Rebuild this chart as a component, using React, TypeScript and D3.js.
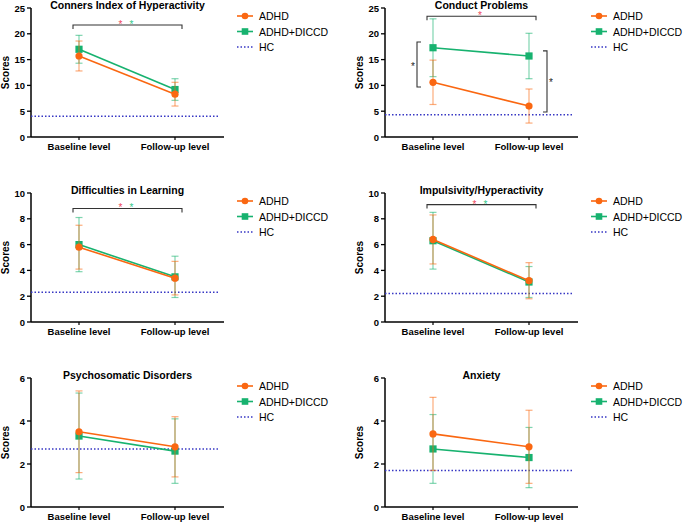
import React from "react";
import * as d3 from "d3";

const categories = ["Baseline level", "Follow-up level"];
const titles = [
  "Conners Index of Hyperactivity",
  "Conduct Problems",
  "Difficulties in Learning",
  "Impulsivity/Hyperactivity",
  "Psychosomatic Disorders",
  "Anxiety",
];
const adhdMean = [[15.7, 8.3], [10.6, 6.0], [5.8, 3.4], [6.4, 3.2], [3.5, 2.8], [3.4, 2.8]];
const adhdSD = [[2.9, 2.3], [4.3, 3.3], [1.7, 1.3], [1.9, 1.4], [1.9, 1.4], [1.7, 1.7]];
const diccdMean = [[17.0, 9.2], [17.3, 15.7], [6.0, 3.5], [6.3, 3.1], [3.3, 2.6], [2.7, 2.3]];
const diccdSD = [[2.7, 2.1], [5.6, 4.4], [2.1, 1.6], [2.2, 1.2], [2.0, 1.5], [1.6, 1.4]];
const hcValue = [4.0, 4.3, 2.3, 2.2, 2.7, 1.7];
const yMax = [25, 25, 10, 10, 6, 6];
const yStep = [5, 5, 2, 2, 2, 2];
const legendLabels = ["ADHD", "ADHD+DICCD", "HC"];
// significance bracket across time points (value level) and star colours
const topBracket = [21.7, 23.4, 8.8, 9.1, null, null];
const topStars = [["red", "green"], ["red"], ["red", "green"], ["red", "green"], [], []];
// side brackets for Conduct Problems: [category index, low, high]
const sideBrackets = [
  [0, 9.7, 18.4],
  [1, 4.85, 16.7],
];

const ORANGE = "#FA6711";
const GREEN = "#17B26F";
const BLUE = "#3737C4";
const FONT = "Liberation Sans, Arial, Helvetica, sans-serif";

const colX = [31, 385];
const rowTop = [8, 193, 378];
const plotH = 129;
const axisLen = 193;

function Panel({ i }: { i: number }) {
  const ax = colX[i % 2];
  const top = rowTop[Math.floor(i / 2)];
  const bottom = top + plotH;
  const y = d3.scaleLinear().domain([0, yMax[i]]).range([bottom, top]);
  const x = d3.scalePoint().domain(categories).range([ax + 48, ax + 144]);
  const ticks = d3.range(0, yMax[i] + 0.001, yStep[i]);
  const line = d3
    .line<number>()
    .x((_, k) => x(categories[k])!)
    .y((v) => y(v));

  const series = [
    { mean: diccdMean[i], sd: diccdSD[i], color: GREEN, shape: "square" },
    { mean: adhdMean[i], sd: adhdSD[i], color: ORANGE, shape: "circle" },
  ];

  const midX = ax + axisLen / 2;
  const lx = ax + 206;
  const ly = [top + 8, top + 23.5, top + 39];

  return (
    <g>
      {/* title */}
      <text x={midX} y={top + 1} textAnchor="middle" fontSize={10.5} fontWeight="bold" fontFamily={FONT}>
        {titles[i]}
      </text>
      {/* y axis */}
      <line x1={ax} x2={ax} y1={top} y2={bottom} stroke="#000" strokeWidth={1.5} />
      {ticks.map((t) => (
        <g key={t}>
          <line x1={ax - 4} x2={ax} y1={y(t)} y2={y(t)} stroke="#000" strokeWidth={1.3} />
          <text x={ax - 6} y={y(t) + 3.5} textAnchor="end" fontSize={9.5} fontWeight="bold" fontFamily={FONT}>
            {t}
          </text>
        </g>
      ))}
      <text
        transform={`translate(${ax - 22},${(top + bottom) / 2}) rotate(-90)`}
        textAnchor="middle"
        fontSize={10}
        fontWeight="bold"
        fontFamily={FONT}
      >
        Scores
      </text>
      {/* x axis */}
      <line x1={ax} x2={ax + axisLen} y1={bottom} y2={bottom} stroke="#000" strokeWidth={1.5} />
      {categories.map((c) => (
        <g key={c}>
          <line x1={x(c)} x2={x(c)} y1={bottom} y2={bottom + 3} stroke="#000" strokeWidth={1.2} />
          <text x={x(c)} y={bottom + 13} textAnchor="middle" fontSize={9.5} fontWeight="bold" fontFamily={FONT}>
            {c}
          </text>
        </g>
      ))}
      {/* HC line */}
      <line
        x1={ax}
        x2={ax + axisLen - 5}
        y1={y(hcValue[i])}
        y2={y(hcValue[i])}
        stroke={BLUE}
        strokeWidth={1.5}
        strokeDasharray="1.5,2"
      />
      {/* series */}
      {series.map((s, si) => (
        <g key={si}>
          {s.mean.map((m, k) => {
            const cx = x(categories[k])!;
            const lo = y(m - s.sd[k]);
            const hi = y(m + s.sd[k]);
            return (
              <g key={k} stroke={s.color} strokeOpacity={0.55} strokeWidth={1.2}>
                <line x1={cx} x2={cx} y1={lo} y2={hi} />
                <line x1={cx - 3.5} x2={cx + 3.5} y1={lo} y2={lo} />
                <line x1={cx - 3.5} x2={cx + 3.5} y1={hi} y2={hi} />
              </g>
            );
          })}
          <path d={line(s.mean)!} fill="none" stroke={s.color} strokeWidth={1.6} />
          {s.mean.map((m, k) => {
            const cx = x(categories[k])!;
            return s.shape === "circle" ? (
              <circle key={k} cx={cx} cy={y(m)} r={3.6} fill={s.color} />
            ) : (
              <rect key={k} x={cx - 3.6} y={y(m) - 3.6} width={7.2} height={7.2} fill={s.color} />
            );
          })}
        </g>
      ))}
      {/* top bracket */}
      {topBracket[i] !== null && (
        <g>
          <path
            d={`M${x(categories[0])! - 6},${y(topBracket[i]!) + 4}V${y(topBracket[i]!)}H${
              x(categories[1])! + 7
            }V${y(topBracket[i]!) + 4}`}
            fill="none"
            stroke="#333"
            strokeWidth={1.1}
          />
          {topStars[i].map((col, k) => {
            const n = topStars[i].length;
            const cxs = (x(categories[0])! + x(categories[1])!) / 2 - 5.5 * (n - 1) + 11 * k - 1;
            return (
              <text
                key={k}
                x={cxs}
                y={y(topBracket[i]!) + 3}
                textAnchor="middle"
                fontSize={10}
                fontFamily={FONT}
                fill={col === "red" ? "#F0475A" : "#2FC98A"}
              >
                *
              </text>
            );
          })}
        </g>
      )}
      {/* side brackets for Conduct Problems */}
      {i === 1 &&
        sideBrackets.map(([k, lo, hi], bi) => {
          const cx = x(categories[k])!;
          const bx = k === 0 ? cx - 16 : cx + 18;
          const dir = k === 0 ? 4 : -4;
          const sx = k === 0 ? bx - 4 : bx + 4;
          return (
            <g key={bi}>
              <path
                d={`M${bx + dir},${y(hi)}H${bx}V${y(lo)}H${bx + dir}`}
                fill="none"
                stroke="#333"
                strokeWidth={1.1}
              />
              <text x={sx} y={(y(hi) + y(lo)) / 2 + 5} textAnchor="middle" fontSize={10} fontFamily={FONT} fill="#222">
                *
              </text>
            </g>
          );
        })}
      {/* legend */}
      <g>
        <line x1={lx} x2={lx + 16} y1={ly[0]} y2={ly[0]} stroke={ORANGE} strokeWidth={1.6} />
        <circle cx={lx + 8} cy={ly[0]} r={3.3} fill={ORANGE} />
        <line x1={lx} x2={lx + 16} y1={ly[1]} y2={ly[1]} stroke={GREEN} strokeWidth={1.6} />
        <rect x={lx + 8 - 3.3} y={ly[1] - 3.3} width={6.6} height={6.6} fill={GREEN} />
        <line x1={lx} x2={lx + 16} y1={ly[2]} y2={ly[2]} stroke={BLUE} strokeWidth={1.5} strokeDasharray="1.5,2" />
        {legendLabels.map((l, k) => (
          <text key={l} x={lx + 22} y={ly[k] + 4} fontSize={10.5} fontFamily={FONT}>
            {l}
          </text>
        ))}
      </g>
    </g>
  );
}

export default function App() {
  return (
    <div style={{ position: "absolute", left: 0, top: 0 }}>
      <svg width={685} height={524} style={{ display: "block", background: "#fff" }}>
        {titles.map((_, i) => (
          <Panel key={i} i={i} />
        ))}
      </svg>
    </div>
  );
}
